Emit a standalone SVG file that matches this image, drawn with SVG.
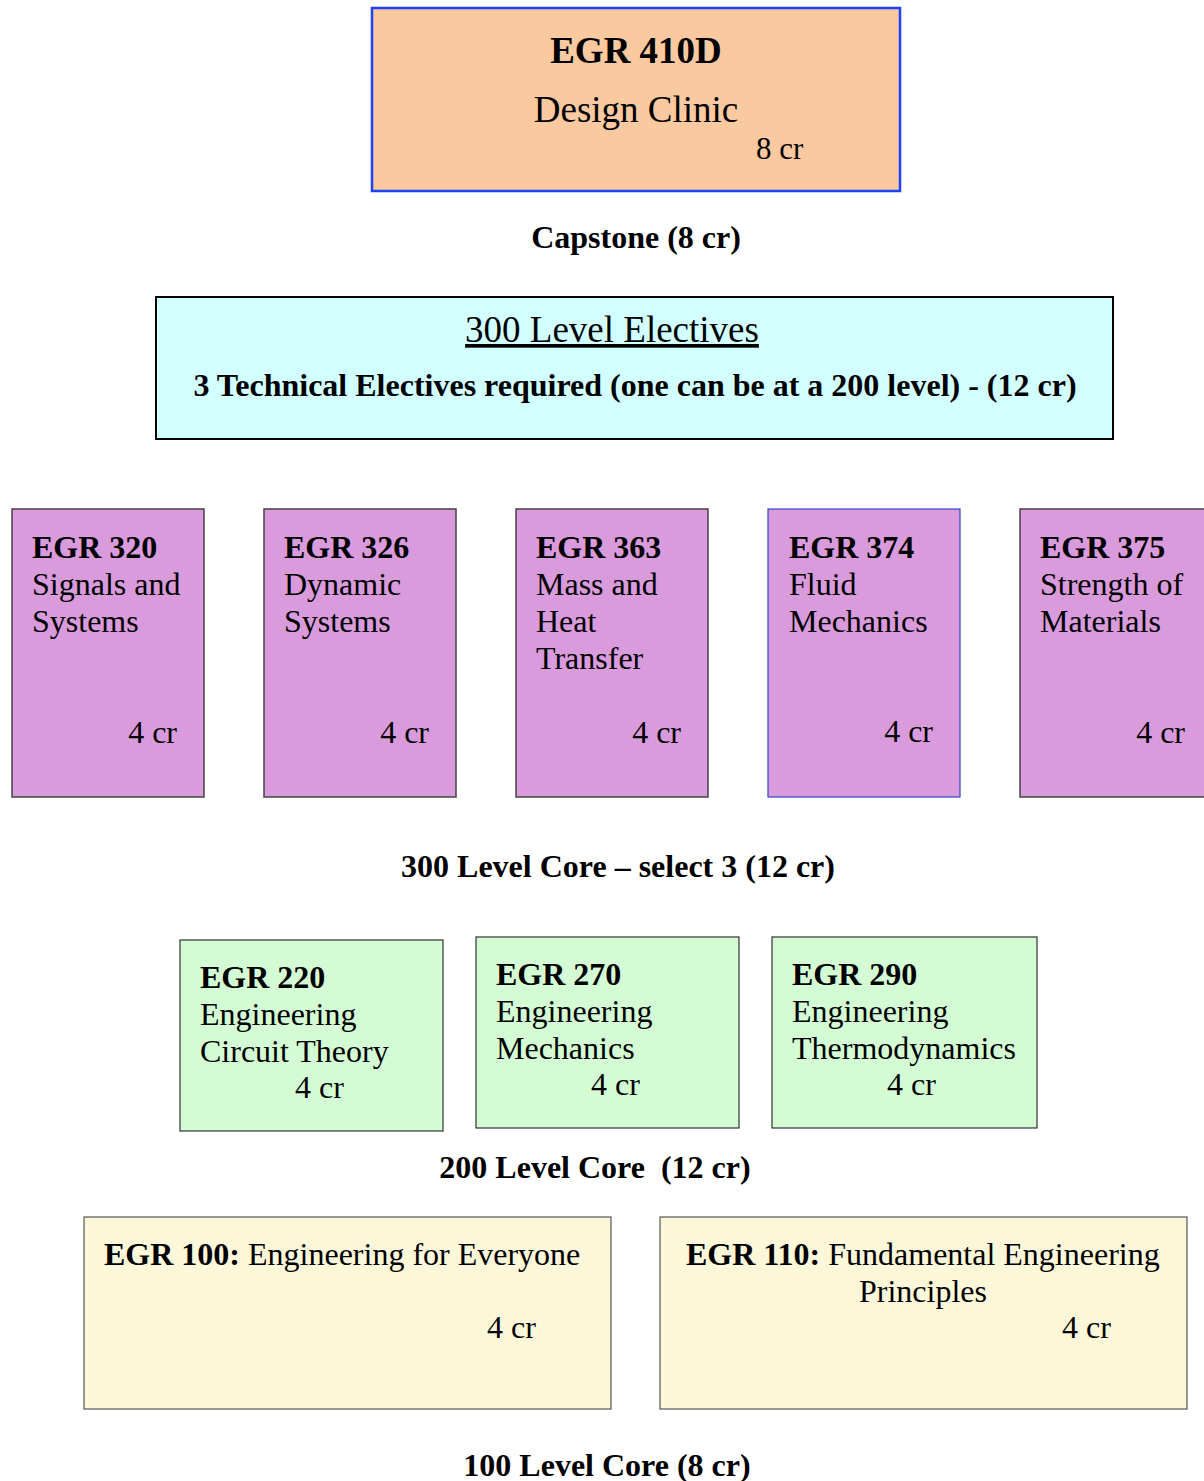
<svg xmlns="http://www.w3.org/2000/svg" width="1204" height="1481" viewBox="0 0 1204 1481">
<style>
text{font-family:"Liberation Serif","Times New Roman",serif;fill:#000;}
.b{font-weight:bold;}
.t32{font-size:32px;}
.t37{font-size:37px;}
.pre{white-space:pre;}
.purple{fill:#D99BDC;stroke:#444;stroke-width:1.5;}
.green{fill:#D4FCD4;stroke:#333;stroke-width:1.2;}
.yellow{fill:#FDF7DA;stroke:#555;stroke-width:1.2;}
.mid{text-anchor:middle;}
.end{text-anchor:end;}
</style>
<rect width="1204" height="1481" fill="#fff"/>
<g id="connectors"></g>

<g id="egr410d">
<rect x="372" y="8" width="528" height="183" fill="#FAC9A0" stroke="#1E40FF" stroke-width="2.5"/>
<text class="b t37 mid" x="636" y="63">EGR 410D</text>
<text class="t37 mid" x="636" y="122">Design Clinic</text>
<text class="t32" x="756" y="159" style="font-size:31px">8 cr</text>
</g>
<g id="label-capstone"><text class="b t32 mid" x="636" y="248">Capstone (8 cr)</text></g>

<g id="electives300">
<rect x="156" y="297" width="957" height="142" fill="#D2FFFF" stroke="#000" stroke-width="2"/>
<text class="t37 mid" x="612" y="342" text-decoration="underline">300 Level Electives</text>
<text class="b t32 mid" x="635" y="396">3 Technical Electives required (one can be at a 200 level) - (12 cr)</text>
</g>

<g id="egr320">
<rect class="purple" x="12" y="509" width="192" height="288"/>
<text class="b t32" x="32" y="558">EGR 320</text>
<text class="t32" x="32" y="595">Signals and</text>
<text class="t32" x="32" y="632">Systems</text>
<text class="t32 end" x="177" y="743">4 cr</text>
</g>
<g id="egr326">
<rect class="purple" x="264" y="509" width="192" height="288"/>
<text class="b t32" x="284" y="558">EGR 326</text>
<text class="t32" x="284" y="595">Dynamic</text>
<text class="t32" x="284" y="632">Systems</text>
<text class="t32 end" x="429" y="743">4 cr</text>
</g>
<g id="egr363">
<rect class="purple" x="516" y="509" width="192" height="288"/>
<text class="b t32" x="536" y="558">EGR 363</text>
<text class="t32" x="536" y="595">Mass and</text>
<text class="t32" x="536" y="632">Heat</text>
<text class="t32" x="536" y="669">Transfer</text>
<text class="t32 end" x="681" y="743">4 cr</text>
</g>
<g id="egr374">
<rect x="768" y="509" width="192" height="288" fill="#D99BDC" stroke="#3344CC" stroke-width="1.2"/>
<text class="b t32" x="789" y="558">EGR 374</text>
<text class="t32" x="789" y="595">Fluid</text>
<text class="t32" x="789" y="632">Mechanics</text>
<text class="t32 end" x="933" y="742">4 cr</text>
</g>
<g id="egr375">
<rect class="purple" x="1020" y="509" width="192" height="288"/>
<text class="b t32" x="1040" y="558">EGR 375</text>
<text class="t32" x="1040" y="595">Strength of</text>
<text class="t32" x="1040" y="632">Materials</text>
<text class="t32 end" x="1185" y="743">4 cr</text>
</g>
<g id="label-core300"><text class="b t32 mid" x="618" y="877">300 Level Core – select 3 (12 cr)</text></g>

<g id="egr220">
<rect class="green" x="180" y="940" width="263" height="191"/>
<text class="b t32" x="200" y="988">EGR 220</text>
<text class="t32" x="200" y="1025">Engineering</text>
<text class="t32" x="200" y="1062">Circuit Theory</text>
<text class="t32" x="295" y="1098">4 cr</text>
</g>
<g id="egr270">
<rect class="green" x="476" y="937" width="263" height="191"/>
<text class="b t32" x="496" y="985">EGR 270</text>
<text class="t32" x="496" y="1022">Engineering</text>
<text class="t32" x="496" y="1059">Mechanics</text>
<text class="t32" x="591" y="1095">4 cr</text>
</g>
<g id="egr290">
<rect class="green" x="772" y="937" width="265" height="191"/>
<text class="b t32" x="792" y="985">EGR 290</text>
<text class="t32" x="792" y="1022">Engineering</text>
<text class="t32" x="792" y="1059">Thermodynamics</text>
<text class="t32" x="887" y="1095">4 cr</text>
</g>
<g id="label-core200"><text class="b t32 mid pre" x="595" y="1178">200 Level Core  (12 cr)</text></g>

<g id="egr100">
<rect class="yellow" x="84" y="1217" width="527" height="192"/>
<text class="t32" x="104" y="1265"><tspan class="b">EGR 100:</tspan> Engineering for Everyone</text>
<text class="t32" x="487" y="1338">4 cr</text>
</g>
<g id="egr110">
<rect class="yellow" x="660" y="1217" width="527" height="192"/>
<text class="t32" x="686" y="1265"><tspan class="b">EGR 110:</tspan> Fundamental Engineering</text>
<text class="t32 mid" x="923" y="1302">Principles</text>
<text class="t32" x="1062" y="1338">4 cr</text>
</g>
<g id="label-core100"><text class="b t32 mid" x="607" y="1476">100 Level Core (8 cr)</text></g>
</svg>
